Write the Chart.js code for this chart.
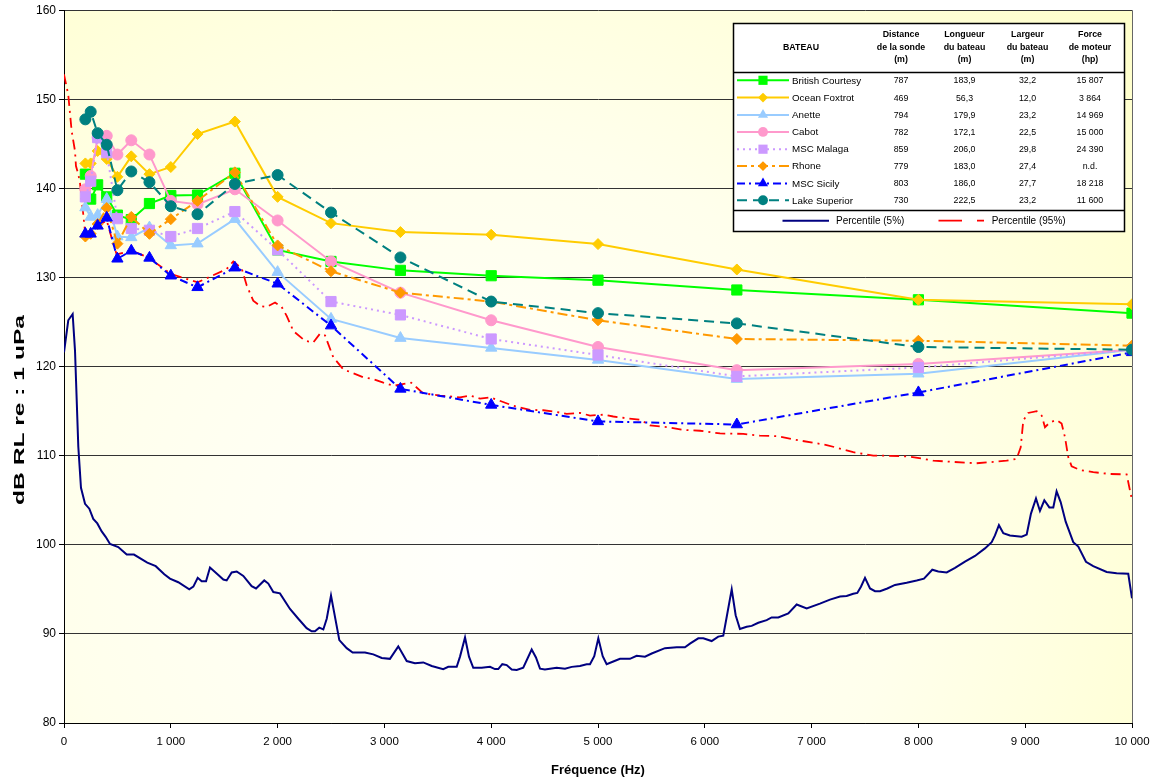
<!DOCTYPE html>
<html><head><meta charset="utf-8">
<script src="https://cdn.jsdelivr.net/npm/chart.js@4.4.0/dist/chart.umd.min.js"></script>
<style>html,body{margin:0;padding:0;background:#fff;}canvas{display:block;}</style>
</head><body>
<canvas id="c" width="1155" height="782"></canvas>
<script>
// ---------- DATA ----------
const FREQ = [200,250,315,400,500,630,800,1000,1250,1600,2000,2500,3150,4000,5000,6300,8000,10000];
const BRITISH_COURTESY = [141.6,138.8,140.4,139.05,137.0,136.5,138.3,139.2,139.25,141.7,133.1,131.8,130.8,130.2,129.7,128.6,127.5,126.0];
const OCEAN_FOXTROT   = [142.8,142.8,144.2,143.3,141.3,143.6,141.6,142.4,146.1,147.5,139.05,136.1,135.1,134.8,133.75,130.9,127.5,127.0];
const ANETTE          = [137.85,136.8,137.0,138.8,134.6,134.5,135.6,133.6,133.8,136.55,130.6,125.35,123.2,122.1,120.75,118.6,119.2,121.9];
const CABOT           = [139.9,141.4,145.7,145.9,143.8,145.4,143.8,138.6,138.2,139.9,136.4,131.8,128.3,125.2,122.2,119.6,120.3,121.9];
const MSC_MALAGA      = [139.05,140.8,145.7,144.0,136.6,135.5,135.3,134.6,135.5,137.4,133.1,127.3,125.8,123.1,121.3,118.9,119.9,121.9];
const RHONE           = [134.6,134.9,136.0,137.8,133.8,136.8,134.9,136.55,138.6,141.8,133.6,130.7,128.3,127.3,125.2,123.1,122.9,122.35];
const MSC_SICILY      = [134.9,134.9,135.8,136.7,132.1,133.0,132.2,130.2,128.9,131.1,129.3,124.6,117.5,115.7,113.85,113.5,117.1,121.6];
const LAKE_SUPERIOR   = [147.75,148.6,146.2,144.9,139.8,141.9,140.7,138.0,137.1,140.5,141.5,137.3,132.25,127.3,126.0,124.85,122.2,121.9];

const P5_FREQ = [0,40,81,103,134,159,197,237,274,312,353,390,431,508,587,655,780,859,939,992,1070,1173,1211,1252,1289,1330,1367,1445,1492,1523,1570,1617,1679,1757,1798,1875,1913,1960,2022,2116,2194,2272,2319,2350,2390,2428,2460,2500,2578,2647,2703,2818,2896,2975,3052,3130,3209,3286,3364,3443,3551,3598,3677,3708,3755,3792,3832,3911,3989,4035,4066,4104,4145,4192,4239,4300,4379,4419,4457,4503,4613,4691,4754,4831,4894,4925,4965,5003,5044,5081,5143,5206,5299,5362,5440,5503,5627,5737,5814,5861,5939,5986,6064,6126,6173,6205,6252,6289,6329,6392,6439,6501,6579,6626,6688,6782,6860,6954,7078,7172,7266,7328,7390,7428,7462,7500,7547,7594,7641,7709,7781,7890,7984,8052,8130,8186,8265,8343,8436,8530,8623,8686,8717,8754,8795,8857,8967,9014,9054,9101,9138,9179,9226,9263,9294,9332,9379,9450,9497,9569,9637,9763,9856,9965,10000];
const P5_DB = [121.6,125.2,125.9,121.8,111.0,106.4,104.6,104.05,102.9,102.4,101.5,100.9,100.1,99.75,98.9,98.9,98.0,97.6,96.7,96.2,95.8,95.0,95.3,96.3,95.9,95.9,97.45,96.6,96.1,96.0,96.9,97.0,96.5,95.35,95.1,96.0,95.65,94.7,94.55,92.8,91.7,90.65,90.3,90.3,90.7,90.5,91.7,94.3,89.3,88.4,87.9,87.9,87.7,87.3,87.2,88.6,86.95,86.7,86.8,86.4,86.05,86.3,86.3,87.45,89.6,87.45,86.2,86.2,86.3,86.05,86.05,86.6,86.5,86.0,85.95,86.2,88.25,87.35,86.1,86.0,86.2,86.1,86.3,86.4,86.6,86.6,87.5,89.5,87.5,86.6,86.9,87.2,87.2,87.55,87.45,87.8,88.4,88.5,88.5,88.9,89.5,89.5,89.2,89.7,89.8,91.9,95.0,92.1,90.55,90.8,90.9,91.25,91.55,91.85,91.85,92.3,93.3,92.85,93.4,93.85,94.2,94.25,94.5,94.6,95.3,96.3,95.1,94.8,94.8,95.1,95.5,95.75,96.0,96.2,97.2,97.0,96.9,97.4,98.1,98.75,99.6,100.3,101.05,102.2,101.3,101.05,100.9,101.15,103.5,105.2,103.8,105.0,104.2,104.2,106.0,104.8,102.6,100.3,99.8,98.1,97.6,96.95,96.8,96.75,94.0];

const P95_FREQ = [0,40,72,103,112,134,150,200,253,315,400,462,493,634,789,1002,1252,1523,1585,1664,1711,1772,1835,1898,1976,2038,2085,2147,2256,2334,2397,2444,2521,2615,2709,2802,2896,2990,3083,3200,3250,3364,3520,3708,3801,3895,3989,4051,4207,4363,4488,4613,4707,4831,4925,5050,5143,5268,5393,5487,5650,5800,5955,6142,6360,6517,6673,6891,7141,7390,7578,7703,7921,8139,8326,8545,8701,8826,8920,8958,8982,9028,9107,9154,9185,9232,9294,9341,9372,9403,9435,9513,9637,9794,9950,9981,10000];
const P95_DB = [152.8,150.5,146.4,144.2,142.5,141.6,140.6,134.8,135.0,135.8,136.4,133.75,132.6,133.0,132.25,130.4,129.45,130.95,131.8,131.0,129.1,127.4,126.8,126.7,127.2,126.7,125.7,124.0,122.9,122.7,123.7,123.5,121.05,119.7,119.25,118.8,118.6,118.2,117.85,118.1,118.2,117.0,116.75,116.55,116.75,116.4,116.55,116.3,115.6,115.15,115.1,114.9,114.7,114.8,114.5,114.6,114.4,114.2,114.05,113.4,113.2,112.9,112.8,112.5,112.45,112.25,112.2,111.7,111.2,110.4,110.0,110.0,109.9,109.45,109.3,109.15,109.3,109.45,109.65,110.95,113.95,114.8,115.0,114.5,113.2,113.75,114.0,113.6,112.1,109.85,108.8,108.4,108.15,107.95,107.9,106.1,105.0];

// legend table
const BOATS     = ['British Courtesy','Ocean Foxtrot','Anette','Cabot','MSC Malaga','Rhone','MSC Sicily','Lake Superior'];
const DISTANCE  = ['787','469','794','782','859','779','803','730'];
const LONGUEUR  = ['183,9','56,3','179,9','172,1','206,0','183,0','186,0','222,5'];
const LARGEUR   = ['32,2','12,0','23,2','22,5','29,8','27,4','27,7','23,2'];
const FORCE     = ['15 807','3 864','14 969','15 000','24 390','n.d.','18 218','11 600'];
const HEADERS   = [['Distance','de la sonde','(m)'],['Longueur','du bateau','(m)'],['Largeur','du bateau','(m)'],['Force','de moteur','(hp)']];
const P5_LABEL = 'Percentile (5%)';
const P95_LABEL = 'Percentile (95%)';
const Y_TITLE = 'dB RL re : 1 uPa';
const X_TITLE = 'Fréquence (Hz)';

// ---------- STYLES ----------
const SERIES = [
  {data:BRITISH_COURTESY, color:'#00FF00', shape:'rect',     r:7.2, dash:[]},
  {data:OCEAN_FOXTROT,    color:'#FFCC00', shape:'rectRot',  r:5.5, dash:[]},
  {data:ANETTE,           color:'#99CCFF', shape:'triangle', r:6.5, dash:[]},
  {data:CABOT,            color:'#FF99CC', shape:'circle',   r:5.5, dash:[]},
  {data:MSC_MALAGA,       color:'#CC99FF', shape:'rect',     r:7.2, dash:[2,4]},
  {data:RHONE,            color:'#FF9900', shape:'rectRot',  r:5.5, dash:[10,4,3,4]},
  {data:MSC_SICILY,       color:'#0000FF', shape:'triangle', r:6.5, dash:[8,4,2,4]},
  {data:LAKE_SUPERIOR,    color:'#008080', shape:'circle',   r:5.5, dash:[10,6]}
];
const FONT = "'Liberation Sans', Arial, sans-serif";
const fmt = v => String(v).replace(/\B(?=(\d{3})+(?!\d))/g, ' ');
const toXY = (xs, ys) => xs.map((x, i) => ({x: x, y: ys[i]}));

const datasets = SERIES.map((s, i) => ({
  label: BOATS[i], data: toXY(FREQ, s.data),
  borderColor: s.color, backgroundColor: s.color, borderWidth: 2, borderDash: s.dash,
  pointStyle: s.shape, pointRadius: s.r, pointBackgroundColor: s.color, pointBorderColor: s.color,
  pointBorderWidth: 1, tension: 0, fill: false, order: 7 - i
}));
datasets.push({label:P5_LABEL, data: toXY(P5_FREQ, P5_DB), borderColor:'#000080', borderWidth:2, pointRadius:0, tension:0, fill:false, order:8});
datasets.push({label:P95_LABEL, data: toXY(P95_FREQ, P95_DB), borderColor:'#FF0000', borderWidth:1.8, borderDash:[10,5,2,5], pointRadius:0, tension:0, fill:false, order:9});

function drawMarker(ctx, shape, x, y, r, color) {
  ctx.fillStyle = color; ctx.beginPath();
  if (shape === 'rect') { const s = r * Math.SQRT1_2; ctx.rect(x - s, y - s, 2 * s, 2 * s); }
  else if (shape === 'rectRot') { ctx.moveTo(x - r, y); ctx.lineTo(x, y - r); ctx.lineTo(x + r, y); ctx.lineTo(x, y + r); ctx.closePath(); }
  else if (shape === 'triangle') {
    let a = 0;
    for (let k = 0; k < 3; k++) { const px = x + Math.sin(a) * r, py = y - Math.cos(a) * r; if (k === 0) ctx.moveTo(px, py); else ctx.lineTo(px, py); a += 2 * Math.PI / 3; }
    ctx.closePath();
  } else { ctx.arc(x, y, r, 0, Math.PI * 2); }
  ctx.fill();
}

const bgPlugin = {
  id: 'bg',
  beforeDraw(chart) {
    const {ctx, chartArea: a} = chart;
    ctx.save();
    ctx.fillStyle = '#fff'; ctx.fillRect(0, 0, chart.width, chart.height);
    const g = ctx.createRadialGradient(480, 560, 20, 480, 560, 900);
    g.addColorStop(0, '#FFFFFB'); g.addColorStop(0.45, '#FFFFEC'); g.addColorStop(1, '#FFFFC6');
    ctx.fillStyle = g; ctx.fillRect(a.left, a.top, a.right - a.left, a.bottom - a.top);
    ctx.restore();
  },
  beforeDatasetsDraw(chart) {
    const {ctx, chartArea: a} = chart;
    ctx.save(); ctx.strokeStyle = '#666'; ctx.lineWidth = 1;
    ctx.beginPath(); ctx.moveTo(Math.round(a.right) + 0.5, a.top); ctx.lineTo(Math.round(a.right) + 0.5, a.bottom); ctx.stroke();
    ctx.restore();
  },
  afterDraw(chart) {
    const ctx = chart.ctx;
    ctx.save();
    ctx.font = "bold 15px " + FONT;
    const w = ctx.measureText(Y_TITLE).width;
    ctx.translate(20, 410);
    ctx.rotate(-Math.PI / 2);
    ctx.scale(190 / w, 1);
    ctx.fillStyle = '#000'; ctx.textAlign = 'center'; ctx.textBaseline = 'middle';
    ctx.fillText(Y_TITLE, 0, 0);
    ctx.restore();
  }
};

const legendPlugin = {
  id: 'tableLegend',
  afterDraw(chart) {
    const ctx = chart.ctx;
    ctx.save();
    const x0 = 733, y0 = 23, x1 = 1124, y1 = 231;
    ctx.fillStyle = '#fff'; ctx.fillRect(x0, y0, x1 - x0, y1 - y0);
    ctx.strokeStyle = '#000'; ctx.lineWidth = 1.5; ctx.strokeRect(x0 + 0.5, y0 + 0.5, x1 - x0, y1 - y0);
    ctx.beginPath(); ctx.moveTo(x0, 72.5); ctx.lineTo(x1, 72.5); ctx.moveTo(x0, 210.5); ctx.lineTo(x1, 210.5); ctx.stroke();
    ctx.fillStyle = '#000'; ctx.textAlign = 'center'; ctx.textBaseline = 'middle';
    ctx.font = "bold 8.8px " + FONT;
    ctx.fillText('BATEAU', 801, 47.5);
    const cols = [901, 964.5, 1027.5, 1090];
    HEADERS.forEach((h, c) => h.forEach((t, k) => ctx.fillText(t, cols[c], 35 + k * 12.5)));
    const rowY = [80.3, 97.6, 114.9, 131.9, 149.2, 166.1, 183.4, 200.3];
    const valCols = [DISTANCE, LONGUEUR, LARGEUR, FORCE];
    SERIES.forEach((s, i) => {
      const y = rowY[i];
      ctx.strokeStyle = s.color; ctx.lineWidth = 2; ctx.setLineDash(s.dash);
      ctx.beginPath(); ctx.moveTo(737, y); ctx.lineTo(789, y); ctx.stroke(); ctx.setLineDash([]);
      drawMarker(ctx, s.shape, 763, y, s.r * 0.9, s.color);
      ctx.fillStyle = '#000'; ctx.textAlign = 'left'; ctx.font = "9.8px " + FONT;
      ctx.fillText(BOATS[i], 792, y + 0.5);
      ctx.textAlign = 'center'; ctx.font = "8.8px " + FONT;
      valCols.forEach((vals, c) => ctx.fillText(vals[i], cols[c], y + 0.5));
    });
    const yb = 220.7;
    ctx.strokeStyle = '#000080'; ctx.lineWidth = 2;
    ctx.beginPath(); ctx.moveTo(782.5, yb); ctx.lineTo(829, yb); ctx.stroke();
    ctx.strokeStyle = '#FF0000'; ctx.lineWidth = 1.8;
    ctx.beginPath(); ctx.moveTo(938.5, yb); ctx.lineTo(962, yb); ctx.moveTo(977, yb); ctx.lineTo(984, yb); ctx.stroke();
    ctx.fillStyle = '#000'; ctx.textAlign = 'left'; ctx.font = "10px " + FONT;
    ctx.fillText(P5_LABEL, 836, yb + 0.5);
    ctx.fillText(P95_LABEL, 991.7, yb + 0.5);
    ctx.restore();
  }
};

new Chart(document.getElementById('c'), {
  type: 'line',
  data: {datasets: datasets},
  plugins: [bgPlugin, legendPlugin],
  options: {
    responsive: false, animation: false, devicePixelRatio: 1,
    layout: {padding: {top: 9, right: 23, left: 0, bottom: 0}},
    plugins: {legend: {display: false}, tooltip: {enabled: false}},
    scales: {
      x: {
        type: 'linear', min: 0, max: 10000,
        ticks: {stepSize: 1000, autoSkip: false, maxRotation: 0, color: '#000', padding: 7,
                font: {family: FONT, size: 11.5}, callback: v => fmt(v)},
        grid: {drawOnChartArea: false, drawTicks: true, tickLength: 5, tickColor: '#000'},
        border: {color: '#000', width: 1},
        title: {display: true, text: X_TITLE, color: '#000', font: {family: FONT, size: 13, weight: 'bold'}, padding: {top: 0, bottom: 4}},
        afterFit(s) { s.height = 59; s.paddingRight = 20; s.paddingLeft = 8; }
      },
      y: {
        min: 80, max: 160,
        ticks: {stepSize: 10, color: '#000', padding: 3, font: {family: FONT, size: 12}},
        grid: {color: '#333', lineWidth: 1, tickLength: 5, tickColor: '#000'},
        border: {color: '#000', width: 1},
        afterFit(s) { s.width = 64; }
      }
    }
  }
});
</script>
</body></html>
